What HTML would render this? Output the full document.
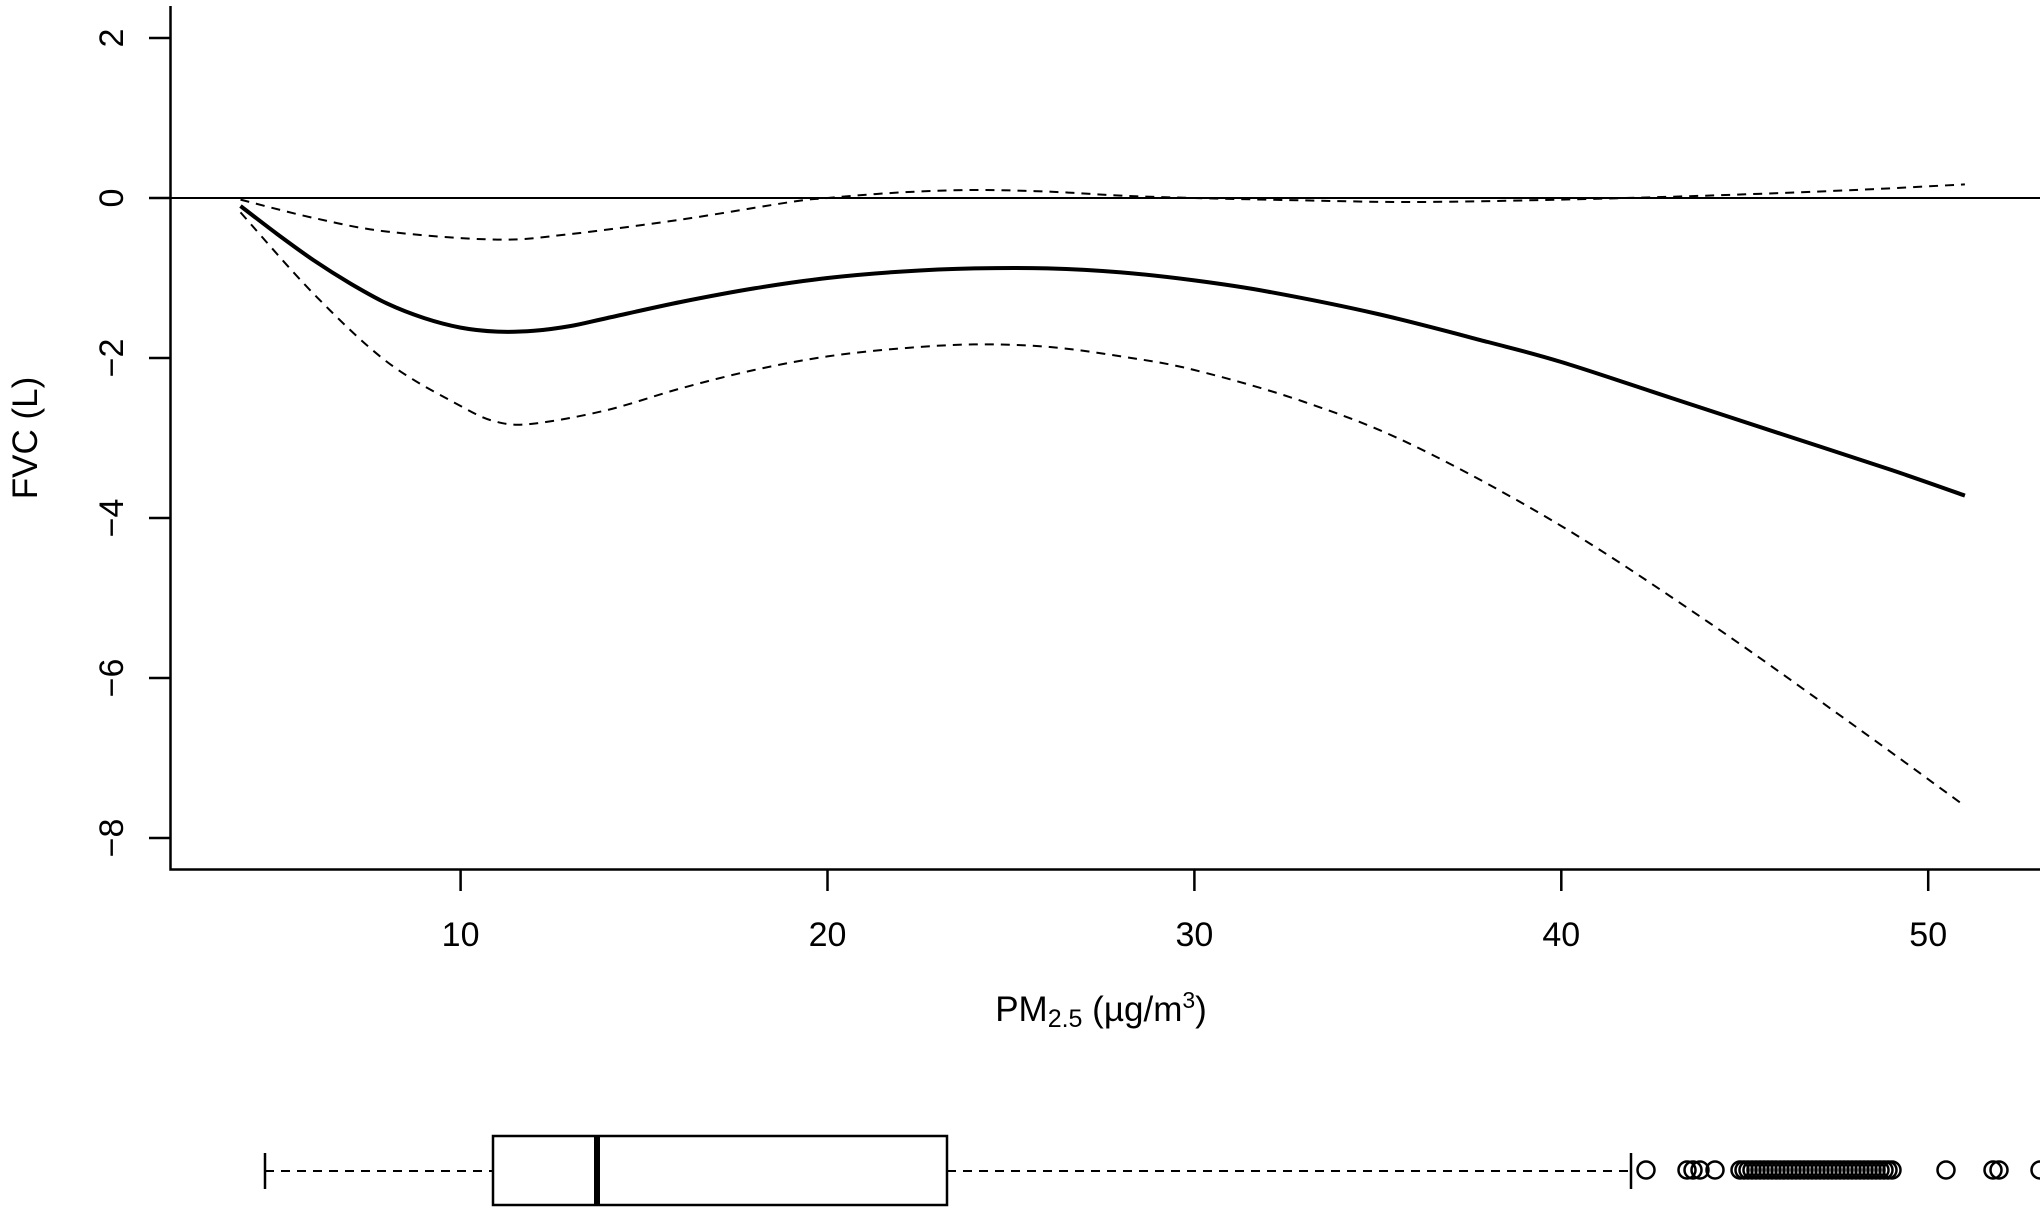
<!DOCTYPE html>
<html><head><meta charset="utf-8"><style>
html,body{margin:0;padding:0;background:#fff;}
svg{display:block;}
text{font-family:"Liberation Sans",Arial,sans-serif;fill:#000;}
</style></head><body>
<svg id="s" width="2040" height="1212" viewBox="0 0 2040 1212" xmlns="http://www.w3.org/2000/svg">
<g stroke="#000" stroke-width="2.5" fill="none">
<path d="M170.5,6 V869.5 H2040"/>
<path d="M149,38 H170.5 M149,198 H170.5 M149,358 H170.5 M149,518 H170.5 M149,678 H170.5 M149,838 H170.5"/>
<path d="M460.6,869.5 V891 M827.5,869.5 V891 M1194.4,869.5 V891 M1561.3,869.5 V891 M1928.2,869.5 V891"/>
<path d="M170.5,198 H2040" stroke-width="2"/>
</g>
<g font-size="34" text-anchor="middle">
<text transform="translate(123,38) rotate(-90)">2</text>
<text transform="translate(123,198) rotate(-90)">0</text>
<text transform="translate(123,358) rotate(-90)">−2</text>
<text transform="translate(123,518) rotate(-90)">−4</text>
<text transform="translate(123,678) rotate(-90)">−6</text>
<text transform="translate(123,838) rotate(-90)">−8</text>
<text x="460.6" y="946">10</text>
<text x="827.5" y="946">20</text>
<text x="1194.4" y="946">30</text>
<text x="1561.3" y="946">40</text>
<text x="1928.2" y="946">50</text>
<text transform="translate(37,438) rotate(-90)" font-size="35">FVC (L)</text>
<text x="1101" y="1021" font-size="35">PM<tspan font-size="25" dy="6">2.5</tspan><tspan dy="-6"> (µg/m</tspan><tspan font-size="23" dy="-13">3</tspan><tspan dy="13">)</tspan></text>
</g>
<g id="curves" fill="none" stroke="#000"></g>
<g stroke="#000" fill="none" stroke-width="2.5">
<path d="M265,1153 V1189 M1631,1153 V1189"/>
<path d="M265,1171 H493 M947,1171 H1631" stroke-dasharray="9,7" stroke-width="2"/>
<rect x="493" y="1136" width="454" height="69" fill="#fff"/>
<path d="M597,1136 V1205" stroke-width="6"/>
</g>
<g id="out" stroke="#000" fill="none" stroke-width="2.5"></g>
</svg>
<script>
var X=function(x){return 93.7+36.69*x},Y=function(y){return 198-80*y};
function path(pts){var p=pts.map(function(a){return[X(a[0]),Y(a[1])]});var d="M"+p[0][0].toFixed(1)+","+p[0][1].toFixed(1);
for(var i=0;i<p.length-1;i++){var p0=p[i-1]||p[i],p1=p[i],p2=p[i+1],p3=p[i+2]||p2;
var c1=[p1[0]+(p2[0]-p0[0])/6,p1[1]+(p2[1]-p0[1])/6],c2=[p2[0]-(p3[0]-p1[0])/6,p2[1]-(p3[1]-p1[1])/6];
d+=" C"+c1.map(function(v){return v.toFixed(1)}).join(",")+" "+c2.map(function(v){return v.toFixed(1)}).join(",")+" "+p2[0].toFixed(1)+","+p2[1].toFixed(1);}
return d;}
var solid=[[4,-0.1],[5,-0.45],[6,-0.78],[7,-1.07],[8,-1.32],[9,-1.5],[10,-1.62],[11,-1.67],[12,-1.66],[13,-1.6],[14,-1.5],[16,-1.3],[18,-1.13],[20,-1.0],[22,-0.92],[24,-0.88],[26,-0.88],[28,-0.93],[30,-1.03],[32,-1.17],[35,-1.45],[38,-1.8],[40,-2.05],[43,-2.5],[46,-2.95],[49,-3.4],[51,-3.72]];
var up=[[4,-0.02],[6,-0.25],[8,-0.42],[11,-0.52],[13,-0.45],[16,-0.27],[19,-0.05],[20,0.0],[22,0.07],[24,0.1],[26,0.08],[28,0.03],[30,0.0],[33,-0.03],[36,-0.05],[40,-0.02],[44,0.03],[48,0.1],[51,0.17]];
var lo=[[4,-0.18],[6,-1.2],[8,-2.05],[10,-2.6],[11,-2.8],[12,-2.82],[14,-2.65],[16,-2.38],[18,-2.15],[20,-1.98],[22,-1.88],[24,-1.83],[26,-1.86],[28,-1.98],[30,-2.15],[33,-2.55],[36,-3.1],[40,-4.1],[44,-5.3],[48,-6.6],[51,-7.6]];
var g=document.getElementById("curves"),ns="http://www.w3.org/2000/svg";
function add(par,d,w,da){var e=document.createElementNS(ns,"path");e.setAttribute("d",d);e.setAttribute("stroke-width",w);if(da)e.setAttribute("stroke-dasharray",da);par.appendChild(e);}
add(g,path(solid),4);add(g,path(up),2,"9,7");add(g,path(lo),2,"9,7");
var o=document.getElementById("out"),xs=[1646,1687,1693,1700,1715,1946,1993,1999,2040];
for(var x=1740;x<=1893;x+=4)xs.push(x);
xs.forEach(function(x){var c=document.createElementNS(ns,"circle");c.setAttribute("cx",x);c.setAttribute("cy",1170);c.setAttribute("r",8.5);o.appendChild(c);});
</script>
</body></html>
